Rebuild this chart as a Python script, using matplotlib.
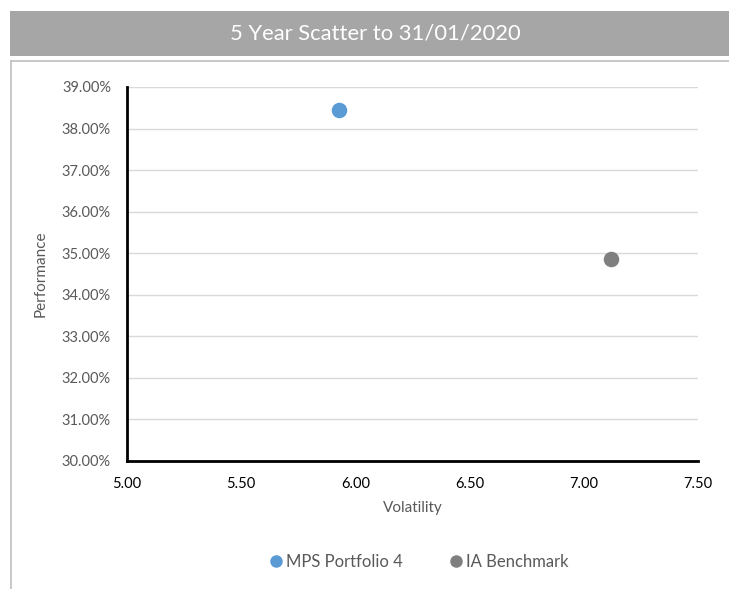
import matplotlib
matplotlib.use("Agg")
import matplotlib.pyplot as plt
from matplotlib.patches import Rectangle
from matplotlib.lines import Line2D
from matplotlib.ticker import FuncFormatter

series_names = ["MPS Portfolio 4", "IA Benchmark"]
volatility = [5.93, 7.12]
performance = [38.45, 34.87]
colors = ["#5b9bd5", "#7f7f7f"]
x_ticks = [5.00, 5.50, 6.00, 6.50, 7.00, 7.50]
y_ticks = [30, 31, 32, 33, 34, 35, 36, 37, 38, 39]
title = "5 Year Scatter to 31/01/2020"

plt.rcParams['font.family'] = ['Lato', 'DejaVu Sans']

W, H = 729, 589
fig = plt.figure(figsize=(W/100, H/100), dpi=100)

# title bar
fig.patches.append(Rectangle((10/W, 1-55.5/H), 1-10/W, 44.5/H, transform=fig.transFigure,
                             facecolor="#a6a6a6", edgecolor="none"))
fig.text(375/W, 1-33/H, title, ha="center", va="center", color="white", fontsize=15.8)
# outer frame lines
fig.lines.append(Line2D([11/W, 1], [1-61/H, 1-61/H], transform=fig.transFigure,
                        color="#bfbfbf", lw=1.2))
fig.lines.append(Line2D([11/W, 11/W], [1-61/H, 0], transform=fig.transFigure,
                        color="#bfbfbf", lw=1.2))

ax = fig.add_axes([127/W, 1-461/H, 571/W, 374/H])
for name, x, y, c in zip(series_names, volatility, performance, colors):
    ax.scatter([x], [y], s=125, color=c, zorder=3, label=name, linewidths=0)

ax.set_xlim(5.0, 7.5)
ax.set_ylim(30, 39)
ax.set_xticks(x_ticks)
ax.set_yticks(y_ticks)
ax.xaxis.set_major_formatter(FuncFormatter(lambda v, p: f"{v:.2f}"))
ax.yaxis.set_major_formatter(FuncFormatter(lambda v, p: f"{v:.2f}%"))
ax.tick_params(length=0, labelsize=10.5)
ax.tick_params(axis="x", pad=11.5, colors="black")
ax.tick_params(axis="y", pad=11.5, colors="#595959")
ax.grid(axis="y", color="#d9d9d9", lw=1)
ax.set_axisbelow(True)
for s in ["top", "right"]:
    ax.spines[s].set_visible(False)
for s in ["left", "bottom"]:
    ax.spines[s].set_color("black")
    ax.spines[s].set_linewidth(2)
ax.set_xlabel("Volatility", fontsize=11, color="#595959", labelpad=7)
ax.set_ylabel("Performance", fontsize=11, color="#595959", labelpad=10)

handles = [Line2D([], [], marker="o", ls="none", color=c, markersize=8) for c in colors]
fig.legend(handles, series_names, loc="center", bbox_to_anchor=(417/W, 1-562/H),
           ncol=2, frameon=False, fontsize=12, handletextpad=0.0, columnspacing=2.6,
           labelcolor="#595959", handlelength=1.2)

fig.savefig("out.png", dpi=100)
